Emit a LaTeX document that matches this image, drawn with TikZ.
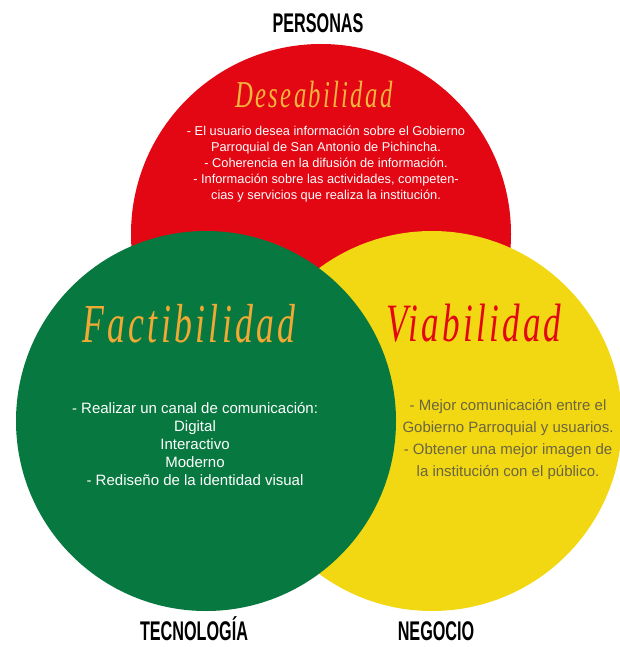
\documentclass[tikz,border=0pt]{standalone}
\usepackage{fontspec}
\setmainfont{Liberation Sans}
\newfontfamily\cabecera[FakeStretch=0.6]{Liberation Sans}
\newfontfamily\pincel[FakeStretch=0.65,LetterSpace=6]{Liberation Serif}
\usepackage{xcolor}
\usepackage{tikz}
\usetikzlibrary{positioning}

\definecolor{rojo}{HTML}{E30613}
\definecolor{verde}{HTML}{077840}
\definecolor{amarillo}{HTML}{F2D813}
\definecolor{naranja}{HTML}{F6B53C}
\definecolor{dorado}{HTML}{F0A933}
\definecolor{oliva}{HTML}{6B6540}

\begin{document}
\begin{tikzpicture}[x=1pt, y=-1pt,
  circulo/.style={circle, minimum size=380pt, inner sep=0pt},
  zona/.style={font=\cabecera\bfseries\fontsize{27}{27}\selectfont, anchor=base, inner sep=0pt},
  criterio/.style={font=\pincel\itshape, anchor=base, inner sep=0pt},
  texto/.style={align=center, inner sep=0pt}]
\useasboundingbox (0,0) rectangle (619,647);
% circulos
\node [circulo, fill=rojo] (P) at (321,234) {};
\node [circulo, fill=amarillo] (N) at (432,421) {};
\node [circulo, fill=verde] (T) at (206,421) {};
% zonas
\node [zona] (personas) at (318,33) {PERSONAS};
\node [zona] (tecnologia) at (194,640) {TECNOLOGÍA};
\node [zona] (negocio) at (436,640) {NEGOCIO};
% criterios
\node [criterio, text=naranja, font=\pincel\itshape\fontsize{38}{38}\selectfont] (deseab) at (314,108) {Deseabilidad};
\node [criterio, text=dorado, font=\pincel\itshape\fontsize{55}{55}\selectfont] (factib) at (189,342) {Factibilidad};
\node [criterio, text=rojo, font=\pincel\itshape\fontsize{54}{54}\selectfont] (viab) at (474,341) {Viabilidad};
% textos
\node [texto, text=white, font=\fontsize{12.8}{16}\selectfont] (txtP) at (326,164)
  {- El usuario desea información sobre el Gobierno\\
   Parroquial de San Antonio de Pichincha.\\
   - Coherencia en la difusión de información.\\
   - Información sobre las actividades, competen-\\
   cias y servicios que realiza la institución.};
\node [texto, text=white, font=\fontsize{15}{18}\selectfont] (txtT) at (195,444)
  {- Realizar un canal de comunicación:\\
   Digital\\
   Interactivo\\
   Moderno\\
   - Rediseño de la identidad visual};
\node [texto, text=oliva, font=\fontsize{15}{22}\selectfont] (txtN) at (508,440)
  {- Mejor comunicación entre el\\
   Gobierno Parroquial y usuarios.\\
   - Obtener una mejor imagen de\\
   la institución con el público.};
\end{tikzpicture}
\end{document}
